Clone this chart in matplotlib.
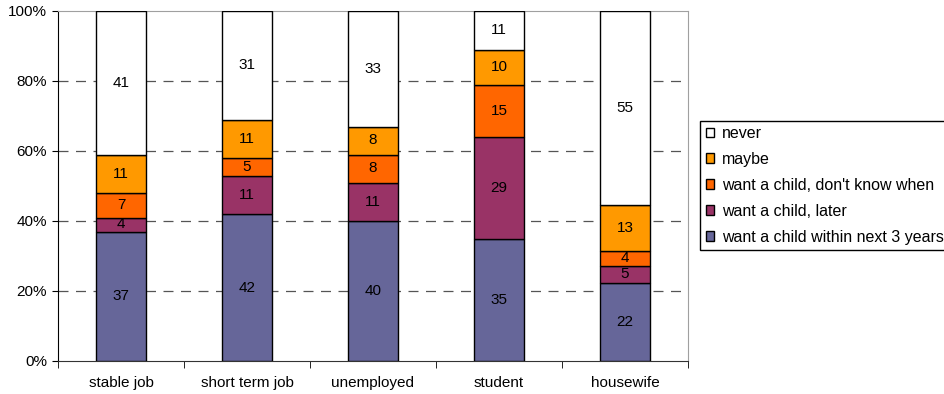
import matplotlib.pyplot as plt
import numpy as np

plt.rcParams['font.family'] = ['Liberation Sans', 'DejaVu Sans']

groups = ['stable job', 'short term job', 'unemployed', 'student', 'housewife']
series = ['want a child within next 3 years', 'want a child, later',
          "want a child, don't know when", 'maybe', 'never']
within3 = [37, 42, 40, 35, 22]
later = [4, 11, 11, 29, 5]
dontknow = [7, 5, 8, 15, 4]
maybe = [11, 11, 8, 10, 13]
never = [41, 31, 33, 11, 55]
colors = ['#666699', '#993366', '#FF6600', '#FF9900', '#FFFFFF']

counts = np.array([within3, later, dontknow, maybe, never], dtype=float)
shares = counts / counts.sum(axis=0) * 100

fig = plt.figure(figsize=(9.45, 3.94), dpi=100)
ax = fig.add_axes([58 / 945, 33 / 394, 630 / 945, 350 / 394])

x = np.arange(len(groups))
bottom = np.zeros(len(groups))
for name, vals, raw, col in zip(series, shares, counts, colors):
    ax.bar(x, vals, 0.4, bottom=bottom, color=col, edgecolor='black',
           linewidth=1, label=name, zorder=3)
    for xi, b, v, r in zip(x, bottom, vals, raw):
        ax.text(xi, b + v / 2, '%d' % r, ha='center', va='center',
                fontsize=11, zorder=4)
    bottom += vals

ax.set_xlim(-0.5, len(groups) - 0.5)
ax.set_ylim(0, 100)
ax.set_yticks(range(0, 101, 20))
ax.set_yticklabels(['%d%%' % v for v in range(0, 101, 20)], fontsize=11)
ax.set_xticks(x)
ax.set_xticklabels(groups, fontsize=11)
ax.set_xticks(np.arange(-0.5, len(groups)), minor=True)
ax.tick_params(axis='x', which='major', length=0, pad=11)
ax.tick_params(axis='x', which='minor', length=5, color='black')
ax.tick_params(axis='y', length=4, pad=4)

for v in range(20, 100, 20):
    ax.axhline(v, color='#555555', linewidth=0.9, dashes=(8, 6), zorder=1)

ax.spines['top'].set_color('#A0A0A0')
ax.spines['right'].set_color('#A0A0A0')
ax.spines['left'].set_color('black')
ax.spines['bottom'].set_color('#333333')

handles, labels = ax.get_legend_handles_labels()
leg = fig.legend(handles[::-1], labels[::-1], loc='upper left',
                 bbox_to_anchor=(700 / 945, (394 - 120.5) / 394),
                 fontsize=11.5, handlelength=0.55, handleheight=0.55,
                 handletextpad=0.45, labelspacing=0.68, borderpad=0.35,
                 borderaxespad=0, fancybox=False, framealpha=1)
leg.get_frame().set_edgecolor('black')
leg.get_frame().set_linewidth(1)

fig.savefig('out.png', dpi=100)
